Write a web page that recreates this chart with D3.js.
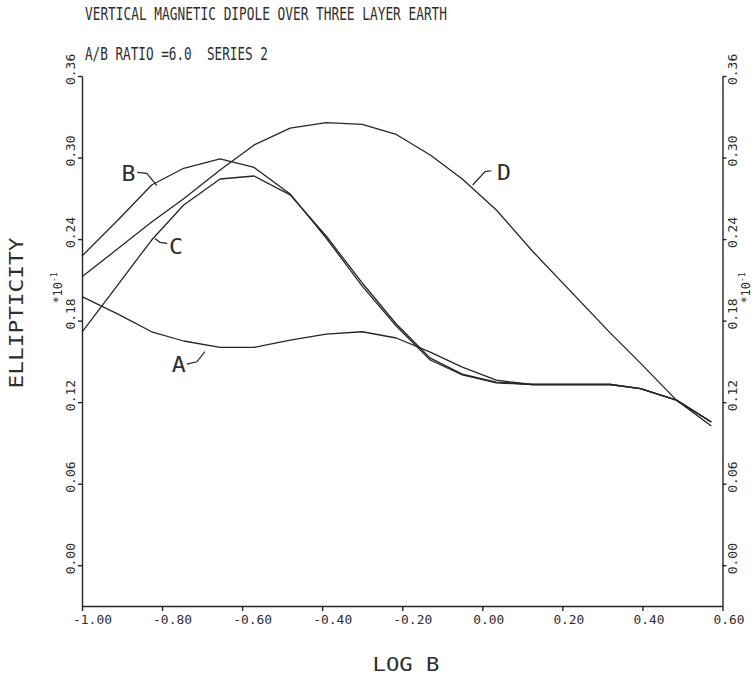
<!DOCTYPE html>
<html>
<head>
<meta charset="utf-8">
<script src="https://cdn.jsdelivr.net/npm/d3@7"></script>
<style>
  html, body { margin: 0; padding: 0; background: #fff; }
  text { font-family: "DejaVu Sans Mono", "Liberation Mono", monospace; fill: #2e2e2e; }
</style>
</head>
<body>
<div id="chart"></div>
<script>
// ---- data ----
const titleText = "VERTICAL MAGNETIC DIPOLE OVER THREE LAYER EARTH";
const subtitleText = "A/B RATIO =6.0  SERIES 2";
const xTitle = "LOG B";
const yTitle = "ELLIPTICITY";

const xTicks = [-1.0, -0.8, -0.6, -0.4, -0.2, 0.0, 0.2, 0.4, 0.6];
const xTickLabels = ["-1.00", "-0.80", "-0.60", "-0.40", "-0.20", "0.00", "0.20", "0.40", "0.60"];
const yTicks = [0.0, 0.06, 0.12, 0.18, 0.24, 0.30, 0.36];
const yTickLabels = ["0.00", "0.06", "0.12", "0.18", "0.24", "0.30", "0.36"];

const logB = [-1.0, -0.91, -0.826, -0.746, -0.655, -0.57, -0.48, -0.39, -0.30, -0.215, -0.13, -0.05, 0.035, 0.125, 0.32, 0.395, 0.485, 0.572];
const seriesA = [0.1976, 0.1848, 0.1718, 0.1650, 0.1603, 0.1603, 0.1657, 0.1701, 0.1718, 0.1672, 0.1568, 0.1458, 0.1362, 0.1330, 0.1330, 0.1300, 0.1215, 0.1054];
const seriesB = [0.2275, 0.2540, 0.2798, 0.2921, 0.2990, 0.2927, 0.2732, 0.2408, 0.2054, 0.1760, 0.1510, 0.1400, 0.1342, 0.1330, 0.1330, 0.1300, 0.1215, 0.1054];
const seriesC = [0.1716, 0.2065, 0.2393, 0.2651, 0.2842, 0.2864, 0.2725, 0.2423, 0.2077, 0.1775, 0.1524, 0.1406, 0.1348, 0.1330, 0.1330, 0.1300, 0.1215, 0.1054];
const seriesD = [0.2123, 0.2330, 0.2526, 0.2697, 0.2909, 0.3093, 0.3216, 0.3257, 0.3244, 0.3170, 0.3019, 0.2842, 0.2614, 0.2312, 0.1708, 0.1487, 0.1215, 0.1024];

const seriesNames = ["A", "B", "C", "D"];
// curve labels and their hook leaders, in data units
const labelPos = [
  { name: "A", x: -0.758, y: 0.1484, hook: [[-0.738, 0.1480], [-0.713, 0.1497], [-0.693, 0.1571]] },
  { name: "B", x: -0.884, y: 0.2884, hook: [[-0.862, 0.2891], [-0.838, 0.2884], [-0.813, 0.2793]] },
  { name: "C", x: -0.765, y: 0.2349, hook: [[-0.787, 0.2369], [-0.805, 0.2376], [-0.818, 0.2405]] },
  { name: "D", x: 0.054, y: 0.2891, hook: [[0.023, 0.2903], [0.007, 0.2896], [-0.024, 0.2798]] }
];
const exponentLabel = "10";
const exponentSup = "-1";

// ---- drawing ----
const W = 755, H = 680;
const svg = d3.select("#chart").append("svg").attr("width", W).attr("height", H);
svg.append("rect").attr("width", W).attr("height", H).attr("fill", "#fff");

const x = d3.scaleLinear().domain([-1.0, 0.6]).range([82, 722.5]);
const y = d3.scaleLinear().domain([-0.03, 0.36]).range([606, 76]);

const ink = "#262626";

// axes
const gx = svg.append("g").attr("transform", `translate(0,${y(-0.03)})`)
  .call(d3.axisBottom(x).tickValues(xTicks).tickSize(5).tickSizeOuter(0).tickFormat(""));
const gl = svg.append("g").attr("transform", `translate(${x(-1.0)},0)`)
  .call(d3.axisLeft(y).tickValues(yTicks).tickSize(4).tickSizeOuter(0).tickFormat(""));
const gr = svg.append("g").attr("transform", `translate(${x(0.6)},0)`)
  .call(d3.axisRight(y).tickValues(yTicks).tickSize(4).tickSizeOuter(0).tickFormat(""));
[gx, gl, gr].forEach(g => {
  g.selectAll("path,line").attr("stroke", ink).attr("stroke-width", 1.4);
});

// x tick labels
svg.append("g").selectAll("text").data(xTicks).join("text")
  .attr("x", d => x(d) - 9)
  .attr("y", 623.5)
  .attr("font-size", 12)
  .attr("textLength", (d, i) => xTickLabels[i].length * 8 - 1)
  .attr("lengthAdjust", "spacingAndGlyphs")
  .text((d, i) => xTickLabels[i]);

// y tick labels, left and right, rotated
[{ px: x(-1.0) - 7, ex: 62 }, { px: x(0.6) + 14, ex: 750 }].forEach(side => {
  svg.append("g").selectAll("text").data(yTicks).join("text")
    .attr("transform", d => `translate(${side.px},${y(d) + 9}) rotate(-90)`)
    .attr("font-size", 12)
    .attr("textLength", (d, i) => yTickLabels[i].length * 7.8)
    .attr("lengthAdjust", "spacingAndGlyphs")
    .text((d, i) => yTickLabels[i]);
  const e = svg.append("text")
    .attr("transform", `translate(${side.ex},${y(0.18) - 17}) rotate(-90)`)
    .attr("font-size", 12);
  e.append("tspan").text("*");
  e.append("tspan").text(exponentLabel);
  e.append("tspan").attr("dy", -5).attr("font-size", 8).text(exponentSup);
});

// titles
svg.append("text").attr("x", 85).attr("y", 20).attr("font-size", 17)
  .attr("textLength", 362).attr("lengthAdjust", "spacingAndGlyphs").text(titleText);
svg.append("text").attr("x", 85).attr("y", 60).attr("font-size", 17)
  .attr("xml:space", "preserve").style("white-space", "pre")
  .attr("textLength", 183).attr("lengthAdjust", "spacingAndGlyphs").text(subtitleText);
svg.append("text").attr("x", 406).attr("y", 671).attr("font-size", 19)
  .attr("text-anchor", "middle").attr("fill", "#3a3a3a")
  .attr("textLength", 67).attr("lengthAdjust", "spacingAndGlyphs").text(xTitle);
svg.append("text").attr("transform", `translate(23,313) rotate(-90)`).attr("font-size", 19)
  .attr("text-anchor", "middle").attr("fill", "#3a3a3a")
  .attr("textLength", 151).attr("lengthAdjust", "spacingAndGlyphs").text(yTitle);

// curves
const allSeries = [seriesA, seriesB, seriesC, seriesD];
const line = d3.line().x(d => x(d[0])).y(d => y(d[1]));
svg.append("g").selectAll("path").data(allSeries).join("path")
  .attr("d", s => line(logB.map((v, i) => [v, s[i]])))
  .attr("fill", "none").attr("stroke", ink).attr("stroke-width", 1.3)
  .attr("stroke-linejoin", "round");

// curve labels
const lg = svg.append("g");
lg.selectAll("path").data(labelPos).join("path")
  .attr("d", d => line(d.hook))
  .attr("fill", "none").attr("stroke", ink).attr("stroke-width", 1.2);
lg.selectAll("text").data(labelPos).join("text")
  .attr("x", d => x(d.x)).attr("y", d => y(d.y) + 8)
  .attr("text-anchor", "middle")
  .attr("font-family", "DejaVu Sans")
  .attr("font-size", 22)
  .attr("textLength", 14).attr("lengthAdjust", "spacingAndGlyphs")
  .text(d => d.name);
</script>
</body>
</html>
